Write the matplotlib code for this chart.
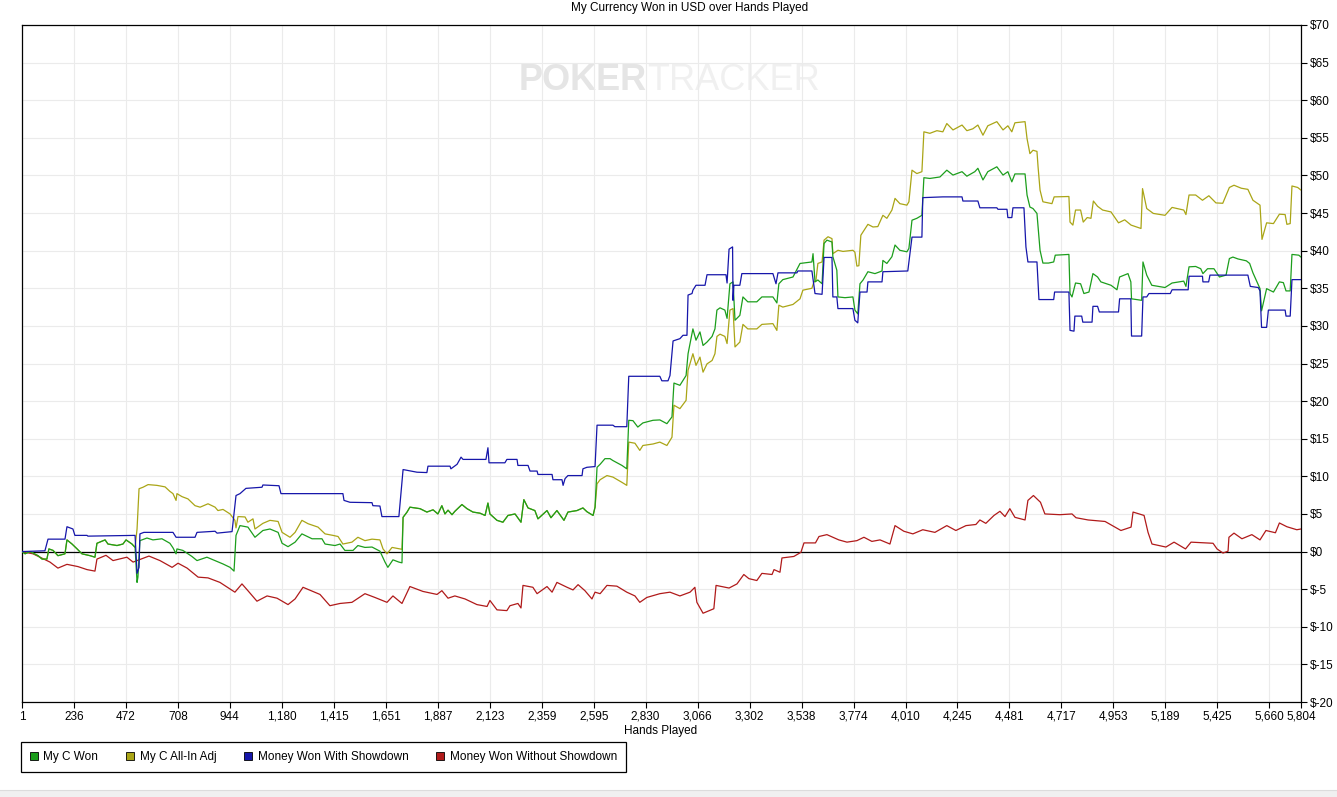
import numpy as np
from matplotlib import pyplot as plt
from matplotlib import font_manager
from matplotlib.lines import Line2D
from matplotlib.patches import Rectangle
from matplotlib.ticker import FuncFormatter

plt.rcParams['font.family'] = ['Liberation Sans', 'DejaVu Sans']
plt.rcParams['font.size'] = 8.5

# ---- data (hand number, USD) ----
x_ticks = [1, 236, 472, 708, 944, 1180, 1415, 1651, 1887, 2123, 2359, 2595, 2830,
           3066, 3302, 3538, 3774, 4010, 4245, 4481, 4717, 4953, 5189, 5425, 5660, 5804]
y_ticks = list(range(-20, 75, 5))

green_hands = [1, 15, 37, 74, 92, 114, 123, 142, 164, 196, 205, 228, 251, 273, 310, 332, 341, 378,
               391, 432, 459, 473, 500, 514, 523, 527, 536, 568, 595, 636, 672, 686, 700, 704, 731,
               772, 795, 840, 877, 913, 945, 963, 972, 990, 1026, 1058, 1094, 1126, 1163, 1181, 1208,
               1240, 1271, 1317, 1362, 1376, 1421, 1444, 1466, 1503, 1525, 1557, 1589, 1625, 1648,
               1661, 1684, 1711, 1725, 1730, 1748, 1761, 1807, 1838, 1866, 1888, 1906, 1920, 1934,
               1952, 1965, 1997, 2020, 2047, 2079, 2102, 2115, 2124, 2156, 2183, 2206, 2238, 2265,
               2278, 2297, 2328, 2342, 2383, 2401, 2428, 2460, 2478, 2519, 2546, 2564, 2592, 2601,
               2610, 2624, 2646, 2669, 2682, 2723, 2745, 2754, 2773, 2795, 2818, 2864, 2895, 2927,
               2950, 2959, 2986, 3014, 3023, 3045, 3059, 3077, 3091, 3109, 3132, 3145, 3154, 3168,
               3190, 3200, 3213, 3227, 3236, 3258, 3272, 3294, 3335, 3358, 3408, 3426, 3435, 3453,
               3499, 3531, 3585, 3590, 3599, 3612, 3631, 3640, 3653, 3676, 3680, 3698, 3703, 3735,
               3771, 3780, 3793, 3803, 3817, 3839, 3871, 3903, 3907, 3925, 3948, 3962, 3984, 4016,
               4025, 4039, 4061, 4084, 4093, 4120, 4166, 4197, 4225, 4266, 4288, 4324, 4338, 4361,
               4383, 4424, 4452, 4474, 4492, 4506, 4552, 4561, 4574, 4588, 4606, 4620, 4633, 4658,
               4682, 4689, 4751, 4756, 4765, 4781, 4804, 4819, 4842, 4860, 4881, 4896, 4942, 4969,
               4981, 5019, 5032, 5035, 5081, 5087, 5104, 5127, 5187, 5219, 5272, 5282, 5296, 5326,
               5349, 5359, 5380, 5409, 5434, 5464, 5479, 5495, 5518, 5556, 5571, 5586, 5618, 5625,
               5648, 5679, 5706, 5724, 5736, 5755, 5763, 5794, 5804]
green_won = [0, -0.3, 0, -0.55, -1.0, -1.0, 0.35, 0.15, -0.55, -0.3, 1.55, 1.0, 0.35, -0.3, -0.55,
             -0.75, 1.1, 1.55, 1.0, 0.8, 1.0, 1.55, 1.0, 0.55, -4.1, -3.4, 1.45, 1.8, 1.55, 1.7, 1.1,
             0.5, -0.3, 0.35, 0.15, -0.65, -1.2, -0.75, -1.2, -1.65, -2.1, -2.6, 2.15, 3.45, 3.25,
             1.9, 2.8, 3.0, 2.55, 1.1, 0.65, 1.25, 2.35, 1.7, 1.7, 1.0, 0.8, 1.0, 0.15, 0.15, 0.8,
             0.55, 0.6, 0.05, -1.4, -2.1, -1.1, -1.4, -1.5, 4.55, 5.25, 5.9, 5.7, 5.25, 5.55, 5.0,
             6.1, 5.0, 5.5, 4.9, 5.35, 6.25, 5.7, 5.25, 5.1, 4.8, 6.45, 5.0, 4.15, 3.9, 4.8, 5.0,
             3.9, 6.9, 5.8, 5.45, 4.35, 5.45, 4.5, 5.45, 4.15, 5.25, 5.45, 5.8, 5.3, 4.8, 5.9, 11.2,
             11.6, 12.35, 12.35, 12.1, 11.45, 11.0, 17.45, 17.4, 16.55, 17.1, 17.45, 17.5, 17.0,
             17.9, 22.4, 22.1, 23.4, 26.3, 29.6, 28.1, 29.2, 27.4, 27.85, 28.6, 29.6, 32.1, 32.4,
             32.1, 31.0, 35.6, 35.85, 30.75, 31.4, 33.85, 33.2, 33.2, 33.85, 33.85, 33.05, 35.6,
             36.15, 36.5, 38.3, 38.5, 39.6, 35.85, 36.1, 35.6, 40.95, 41.4, 41.15, 39.2, 37.4, 33.85,
             33.75, 33.85, 32.1, 31.6, 35.6, 36.1, 37.2, 36.95, 37.3, 38.7, 38.3, 39.2, 40.75, 40.05,
             39.85, 40.3, 44.05, 44.3, 44.7, 49.7, 49.6, 49.8, 50.7, 50.05, 50.5, 49.9, 50.5, 50.95,
             49.4, 50.5, 51.15, 50.05, 50.5, 49.15, 50.2, 50.2, 47.4, 45.8, 45.6, 44.95, 40.05,
             38.35, 38.35, 38.5, 39.4, 39.5, 34.3, 33.85, 35.7, 35.6, 34.3, 34.5, 36.95, 36.5, 35.85,
             35.4, 34.8, 36.5, 36.95, 35.85, 33.6, 33.4, 38.5, 36.75, 35.4, 35.1, 35.7, 35.95, 35.25,
             37.85, 37.9, 37.6, 36.95, 37.6, 37.6, 36.5, 36.75, 38.95, 39.15, 38.9, 38.65, 38.3,
             37.05, 34.95, 32.0, 34.95, 34.5, 35.85, 35.75, 34.65, 34.65, 39.5, 39.4, 39.15]

allin_hands = [1, 15, 37, 74, 92, 114, 123, 142, 164, 196, 205, 228, 251, 273, 310, 332, 341, 378,
               391, 432, 459, 473, 500, 514, 523, 532, 550, 573, 613, 650, 672, 686, 700, 704, 727,
               754, 786, 809, 845, 877, 890, 913, 945, 967, 972, 981, 1013, 1026, 1049, 1058, 1094,
               1126, 1163, 1181, 1217, 1240, 1271, 1299, 1344, 1376, 1412, 1435, 1457, 1498, 1525,
               1557, 1589, 1625, 1639, 1657, 1680, 1716, 1725, 1730, 1748, 1761, 1807, 1838, 1866,
               1888, 1906, 1920, 1934, 1952, 1965, 1997, 2020, 2047, 2079, 2102, 2115, 2124, 2156,
               2183, 2206, 2238, 2265, 2278, 2297, 2328, 2342, 2383, 2401, 2428, 2460, 2478, 2519,
               2546, 2564, 2592, 2601, 2610, 2624, 2655, 2682, 2723, 2745, 2754, 2782, 2804, 2818,
               2864, 2895, 2927, 2950, 2959, 2986, 3014, 3023, 3045, 3059, 3077, 3091, 3109, 3132,
               3145, 3154, 3168, 3190, 3200, 3213, 3227, 3236, 3258, 3272, 3294, 3335, 3358, 3408,
               3426, 3435, 3453, 3499, 3531, 3544, 3585, 3594, 3603, 3612, 3631, 3640, 3658, 3676,
               3680, 3703, 3726, 3771, 3780, 3789, 3798, 3807, 3817, 3839, 3862, 3884, 3907, 3925,
               3948, 3962, 3984, 4016, 4025, 4039, 4061, 4084, 4093, 4120, 4152, 4179, 4197, 4225,
               4266, 4288, 4315, 4338, 4361, 4383, 4424, 4452, 4474, 4492, 4506, 4552, 4561, 4574,
               4588, 4606, 4611, 4620, 4633, 4674, 4684, 4751, 4756, 4769, 4781, 4804, 4816, 4834,
               4851, 4862, 4881, 4904, 4942, 4976, 5004, 5033, 5078, 5085, 5104, 5134, 5187, 5219,
               5272, 5282, 5296, 5326, 5357, 5386, 5418, 5449, 5479, 5500, 5533, 5563, 5586, 5618,
               5627, 5648, 5679, 5706, 5732, 5740, 5755, 5763, 5789, 5804]
allin_won = [0, -0.3, 0, -0.55, -1.0, -1.0, 0.35, 0.15, -0.55, -0.3, 1.55, 1.0, 0.35, -0.3, -0.55,
             -0.75, 1.1, 1.55, 1.0, 0.8, 1.0, 1.55, 1.0, 0.55, 3.0, 8.35, 8.55, 8.9, 8.8, 8.6, 8.0,
             7.7, 6.8, 7.7, 7.3, 7.0, 6.1, 5.9, 6.35, 5.9, 5.45, 5.6, 5.0, 4.15, 3.15, 4.65, 4.6, 3.9,
             4.35, 3.0, 3.75, 4.15, 4.0, 2.55, 1.9, 2.55, 4.15, 3.7, 3.25, 2.35, 2.15, 2.0, 1.0, 1.25,
             1.9, 1.45, 1.65, 1.55, 0.35, -0.3, 0.55, 0.35, 0.3, 4.55, 5.25, 5.9, 5.7, 5.25, 5.55,
             5.0, 6.1, 5.0, 5.5, 4.9, 5.35, 6.25, 5.7, 5.25, 5.1, 4.8, 6.45, 5.0, 4.15, 3.9, 4.8, 5.0,
             3.9, 6.9, 5.8, 5.45, 4.35, 5.45, 4.5, 5.45, 4.15, 5.25, 5.45, 5.8, 5.3, 4.8, 5.9, 9.0,
             9.55, 10.1, 9.9, 9.2, 8.8, 14.55, 14.4, 13.45, 14.1, 14.3, 14.55, 14.1, 15.2, 19.45,
             19.0, 20.1, 24.1, 26.3, 24.75, 25.85, 23.85, 24.95, 25.4, 26.3, 28.6, 28.9, 28.6, 27.65,
             32.1, 32.3, 27.2, 27.85, 30.2, 29.6, 29.6, 30.2, 30.3, 29.4, 32.75, 32.5, 32.85, 33.6,
             34.75, 35.0, 35.85, 36.0, 38.3, 38.5, 41.4, 41.85, 41.6, 39.6, 40.05, 39.9, 40.05,
             39.8, 37.95, 38.0, 42.05, 42.5, 43.5, 43.15, 43.2, 44.7, 44.3, 45.4, 46.95, 46.25, 46.05,
             46.5, 50.7, 50.25, 50.5, 55.8, 55.6, 55.95, 55.8, 56.9, 56.05, 56.7, 55.95, 56.2, 56.7,
             55.35, 56.6, 57.15, 56.05, 56.6, 55.8, 57.0, 57.15, 54.9, 52.9, 53.35, 53.2, 51.15,
             48.05, 46.5, 46.25, 47.15, 47.2, 43.8, 43.4, 45.4, 45.4, 43.8, 44.4, 44.3, 46.6, 45.9,
             45.4, 45.15, 43.7, 44.1, 43.4, 42.95, 48.25, 45.6, 44.95, 44.7, 45.75, 45.4, 44.8,
             47.4, 47.4, 46.7, 47.3, 46.35, 46.3, 48.4, 48.7, 48.3, 48.15, 46.7, 46.05, 41.5, 43.7,
             43.6, 44.85, 44.8, 43.5, 43.6, 48.6, 48.4, 48.05]

sd_hands = [1, 105, 119, 196, 205, 232, 241, 296, 300, 514, 523, 532, 536, 554, 686, 700, 786, 795,
            877, 886, 954, 972, 990, 1017, 1090, 1094, 1167, 1176, 1457, 1462, 1489, 1589, 1593,
            1625, 1634, 1711, 1730, 1793, 1838, 1843, 1943, 1947, 1975, 1993, 2002, 2106, 2115,
            2120, 2192, 2201, 2247, 2251, 2297, 2306, 2338, 2342, 2406, 2410, 2451, 2456, 2465,
            2478, 2542, 2546, 2564, 2601, 2610, 2682, 2691, 2745, 2754, 2895, 2904, 2932, 2941,
            2955, 2986, 3000, 3018, 3023, 3041, 3045, 3059, 3100, 3109, 3195, 3200, 3209, 3225,
            3227, 3231, 3258, 3267, 3408, 3422, 3431, 3517, 3521, 3585, 3599, 3631, 3640, 3676,
            3680, 3698, 3703, 3771, 3780, 3793, 3803, 3835, 3839, 3903, 3907, 4020, 4039, 4084,
            4088, 4179, 4266, 4270, 4338, 4347, 4424, 4429, 4470, 4474, 4492, 4497, 4547, 4556,
            4565, 4606, 4615, 4682, 4686, 4751, 4756, 4774, 4778, 4809, 4814, 4856, 4860, 4881,
            4889, 4976, 4981, 5032, 5035, 5081, 5087, 5104, 5114, 5211, 5219, 5292, 5296, 5357,
            5359, 5385, 5391, 5563, 5574, 5610, 5618, 5625, 5648, 5656, 5732, 5736, 5755, 5763, 5804]
sd_won = [0, 0.1, 1.65, 1.65, 3.3, 3.0, 2.15, 2.15, 2.05, 2.15, -2.9, -2.1, 2.35, 2.55, 2.55, 1.9,
          1.9, 2.55, 2.7, 2.45, 2.65, 7.45, 7.7, 8.4, 8.55, 8.85, 8.75, 7.7, 7.7, 6.8, 6.55, 6.5,
          6.1, 6.05, 4.65, 4.65, 10.9, 10.55, 10.5, 11.35, 11.35, 11.0, 11.6, 12.55, 12.25, 12.25,
          13.8, 11.8, 11.8, 12.25, 12.25, 11.45, 11.45, 10.7, 10.7, 10.25, 10.25, 9.55, 9.55, 8.8,
          9.7, 10.1, 10.1, 11.0, 11.2, 11.3, 16.8, 16.8, 16.6, 16.6, 23.3, 23.3, 22.7, 22.7, 23.4,
          28.0, 28.3, 28.75, 28.75, 34.1, 34.3, 34.75, 35.4, 35.4, 36.8, 36.8, 35.7, 40.2, 40.5,
          33.4, 35.4, 35.4, 36.95, 36.95, 35.6, 37.05, 37.05, 37.3, 37.3, 34.3, 34.2, 39.1, 39.1,
          33.85, 33.85, 32.3, 32.3, 30.75, 30.4, 34.5, 34.5, 35.85, 35.85, 37.2, 37.3, 41.8, 41.8,
          47.05, 47.15, 47.15, 46.6, 46.6, 45.7, 45.7, 45.5, 45.5, 44.4, 44.4, 45.7, 45.7, 40.5,
          38.5, 38.5, 33.5, 33.5, 34.5, 34.5, 29.4, 29.3, 31.3, 31.3, 30.5, 30.5, 32.6, 32.6, 31.85,
          31.85, 33.6, 33.6, 28.65, 28.65, 33.85, 33.85, 34.3, 34.3, 34.8, 34.8, 36.6, 36.6, 35.85,
          35.85, 36.75, 36.75, 35.25, 35.1, 34.65, 29.8, 29.8, 32.1, 32.1, 31.3, 31.3, 36.15, 36.15]

nsd_hands = [1, 51, 96, 128, 164, 205, 255, 296, 332, 341, 382, 414, 477, 505, 577, 627, 682, 709,
             750, 800, 845, 899, 967, 999, 1026, 1067, 1113, 1158, 1208, 1240, 1276, 1353, 1398,
             1444, 1498, 1557, 1602, 1657, 1684, 1725, 1761, 1820, 1884, 1906, 1934, 1965, 2011,
             2065, 2111, 2124, 2156, 2201, 2215, 2251, 2265, 2274, 2319, 2338, 2383, 2406, 2428,
             2474, 2501, 2524, 2555, 2587, 2601, 2624, 2655, 2700, 2745, 2782, 2804, 2836, 2895,
             2941, 2986, 3032, 3054, 3063, 3091, 3140, 3150, 3209, 3245, 3276, 3299, 3335, 3358,
             3404, 3413, 3440, 3449, 3503, 3535, 3549, 3601, 3617, 3653, 3707, 3744, 3789, 3821,
             3857, 3894, 3939, 3962, 4002, 4043, 4088, 4143, 4197, 4238, 4284, 4329, 4347, 4374,
             4411, 4438, 4461, 4483, 4506, 4552, 4565, 4590, 4622, 4642, 4710, 4765, 4783, 4838,
             4915, 4933, 4987, 5033, 5042, 5092, 5110, 5128, 5191, 5228, 5280, 5305, 5405, 5423,
             5450, 5473, 5477, 5500, 5536, 5581, 5618, 5645, 5688, 5706, 5740, 5785, 5804]
nsd_won = [0, -0.3, -0.95, -1.4, -2.2, -1.7, -2.0, -2.4, -2.6, -1.0, -0.5, -1.2, -0.75, -1.4, -0.6,
           -1.2, -2.1, -1.55, -2.2, -3.4, -3.5, -4.1, -5.4, -4.3, -5.2, -6.6, -5.9, -6.2, -7.05,
           -6.3, -4.75, -5.7, -7.2, -6.9, -6.75, -5.6, -6.1, -6.75, -5.9, -6.9, -4.65, -5.3, -5.7,
           -5.2, -6.2, -5.9, -6.3, -7.05, -7.3, -6.5, -7.75, -7.85, -7.2, -6.9, -7.5, -4.5, -4.75,
           -5.6, -4.65, -5.4, -4.1, -4.75, -5.1, -4.4, -5.2, -6.3, -5.4, -5.6, -4.5, -4.6, -5.4,
           -5.9, -6.75, -6.1, -5.6, -5.4, -5.9, -5.4, -4.75, -6.75, -8.2, -7.6, -4.5, -4.85, -4.3,
           -3.05, -3.6, -3.85, -2.9, -3.05, -2.4, -2.75, -0.85, -0.65, -0.1, 1.15, 1.15, 2.0, 2.25,
           1.55, 1.25, 1.45, 1.9, 1.35, 1.55, 1.0, 3.45, 2.7, 2.35, 2.9, 2.55, 3.45, 2.8, 3.45, 3.6,
           4.2, 3.75, 4.8, 5.35, 4.65, 5.7, 4.55, 4.2, 6.8, 7.45, 6.55, 5.0, 4.9, 5.0, 4.5, 4.2,
           4.0, 3.7, 2.8, 3.25, 5.25, 4.8, 2.55, 1.0, 0.6, 1.25, 0.35, 1.25, 1.1, 0.35, -0.2, 0.05,
           1.9, 2.45, 1.7, 2.25, 1.55, 2.8, 2.5, 3.8, 3.3, 2.9, 3.0]

labels = ["My C Won", "My C All-In Adj", "Money Won With Showdown", "Money Won Without Showdown"]
colors = ["#1c9e1c", "#aaa516", "#1616aa", "#b01a1a"]


def money(v, pos):
    return "$" + str(int(v))


def hands(v, pos):
    return format(int(v), ",")


W, H = 1337, 797
fig = plt.figure(figsize=(W / 100, H / 100), dpi=100)
fig.patch.set_facecolor("white")

# grey strip at the very bottom of the window
fig.patches.append(Rectangle((0, 0), 1, 7 / H, transform=fig.transFigure,
                             facecolor="#f0f0f0", edgecolor="none"))
fig.add_artist(Line2D([0, 1], [7 / H, 7 / H], transform=fig.transFigure, color="#dcdcdc", lw=0.8))

ax = fig.add_axes([22 / W, 1 - 702 / H, (1301 - 22) / W, (702 - 25) / H])
ax.set_xlim(1, 5804)
ax.set_ylim(-20, 70)

# watermark (narrow font if there is one)
names = {f.name for f in font_manager.fontManager.ttflist}
if "Liberation Sans Narrow" in names:
    wm_font, wm_size = "Liberation Sans Narrow", 32
else:
    wm_font, wm_size = "Liberation Sans", 26
ax.text(647 / W, 1 - 90 / H, "POKER", transform=fig.transFigure, ha="right", va="baseline",
        family=wm_font, fontsize=wm_size, fontweight="bold", color="#e5e5e5", zorder=0)
ax.text(647 / W, 1 - 90 / H, "TRACKER", transform=fig.transFigure, ha="left", va="baseline",
        family=wm_font, fontsize=wm_size, color="#f0f0f0", zorder=0)

ax.set_xticks(x_ticks)
ax.set_yticks(y_ticks)
ax.xaxis.set_major_formatter(FuncFormatter(hands))
ax.yaxis.set_major_formatter(FuncFormatter(money))
ax.yaxis.tick_right()
ax.tick_params(axis="both", direction="out", length=4, width=0.8, colors="black", labelsize=8.5)
ax.tick_params(axis="x", pad=8.6)
ax.tick_params(axis="y", pad=2.2)
for lab in ax.get_xticklabels():
    lab.set_verticalalignment("baseline")
ax.grid(True, color="#ebebeb", lw=0.8, zorder=1)
ax.set_axisbelow(True)
for s in ax.spines.values():
    s.set_color("black")
    s.set_linewidth(0.9)

ax.axhline(0, color="black", lw=0.9, zorder=2)

ax.plot(nsd_hands, nsd_won, color=colors[3], lw=0.9, zorder=3)
ax.plot(allin_hands, allin_won, color=colors[1], lw=0.9, zorder=4)
ax.plot(green_hands, green_won, color=colors[0], lw=0.9, zorder=5)
ax.plot(sd_hands, sd_won, color=colors[2], lw=0.9, zorder=6)

fig.text(690 / W, 1 - 11.5 / H, "My Currency Won in USD over Hands Played", ha="center",
         va="baseline", fontsize=8.5)
fig.text(661 / W, 1 - 734 / H, "Hands Played", ha="center", va="baseline", fontsize=8.5)

handles = [Line2D([], [], marker="s", linestyle="none", markersize=6, markerfacecolor=c,
                  markeredgecolor="black", markeredgewidth=0.6) for c in colors]
leg = fig.legend(handles, labels, loc="upper left", bbox_to_anchor=(21 / W, 1 - 742 / H),
                 ncol=4, frameon=True, fancybox=False, framealpha=1, edgecolor="black",
                 fontsize=8.5, handlelength=0.75, handletextpad=0.4, columnspacing=2.35,
                 borderpad=0.75, borderaxespad=0)
leg.get_frame().set_linewidth(0.9)

fig.savefig("out.png", dpi=100, facecolor="white")
